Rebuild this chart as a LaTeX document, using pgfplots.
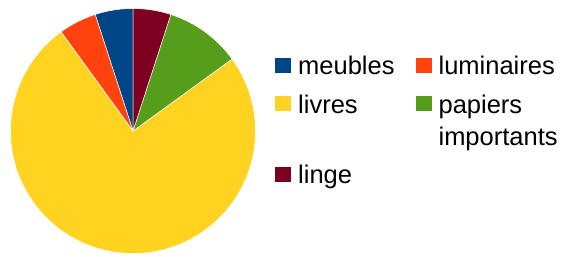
\documentclass[border=0pt]{standalone}
\usepackage{pgfplots}
\pgfplotsset{compat=1.18}
\usepackage{pgfplotstable}
\usepackage{fontspec}
\setmainfont{Liberation Sans}
\definecolor{cmeubles}{HTML}{004586}
\definecolor{cluminaires}{HTML}{FF420E}
\definecolor{clivres}{HTML}{FFD320}
\definecolor{cpapiers}{HTML}{579D1C}
\definecolor{clinge}{HTML}{7E0021}
\pgfplotstableread{
label value color
meubles 5 cmeubles
luminaires 5 cluminaires
livres 75 clivres
papiers 10 cpapiers
linge 5 clinge
}\piedata
\newcommand\rowa{\rule[-6.6bp]{0pt}{31.6bp}}
\newcommand\rowb{\rule[-13.5bp]{0pt}{45.4bp}}
\newcommand\rowc{\rule[-38.6bp]{0pt}{95.6bp}}
\begin{document}
\begin{tikzpicture}[x=1bp,y=1bp]
\path[use as bounding box] (0,0) rectangle (563,256);
\begin{axis}[
  at={(133bp,125bp)}, anchor=center,
  scale only axis, width=245bp, height=245bp,
  xmin=-1, xmax=1, ymin=-1, ymax=1,
  hide axis, clip=false,
  legend image code/.code={\fill[#1,draw=none] (0bp,-7.5bp) rectangle (16bp,7.5bp);},
  legend columns=2,
  legend cell align=left,
  legend style={
    at={(1.0796,0.8327)}, anchor=north west,
    draw=none, fill=none, inner sep=0pt,
    font=\fontsize{25.5bp}{32bp}\selectfont,
    nodes={inner sep=0pt, text depth=, text height=},
    row sep=0pt,
    column sep=7bp,
    /tikz/every even column/.append style={column sep=21bp},
  },
]
\def\cumangle{90}
\pgfplotsforeachungrouped \i in {0,...,4}{%
  \pgfplotstablegetelem{\i}{value}\of\piedata \let\v\pgfplotsretval
  \pgfplotstablegetelem{\i}{color}\of\piedata \let\c\pgfplotsretval
  \pgfmathsetmacro\endangle{\cumangle+3.6*\v}%
  \pgfmathsetmacro\xs{cos(\cumangle)}%
  \pgfmathsetmacro\ys{sin(\cumangle)}%
  \edef\cmd{\noexpand\fill[fill=\c, draw=white, line width=0.5bp] (axis cs:0,0) -- (axis cs:\xs,\ys) arc[start angle=\cumangle, end angle=\endangle, radius=122.5bp] -- cycle;}%
  \cmd
  \global\let\cumangle\endangle
}
\addlegendimage{fill=cmeubles}
\addlegendentry{\rowa meubles}
\addlegendimage{fill=cluminaires}
\addlegendentry{\rowa luminaires}
\addlegendimage{fill=clivres}
\addlegendentry{\rowb livres}
\addlegendimage{fill=cpapiers}
\addlegendentry{\rowb\smash{\begin{tabular}[t]{@{}l@{}}papiers\\importants\end{tabular}}}
\addlegendimage{fill=clinge}
\addlegendentry{\rowc linge}
\end{axis}
\end{tikzpicture}
\end{document}
